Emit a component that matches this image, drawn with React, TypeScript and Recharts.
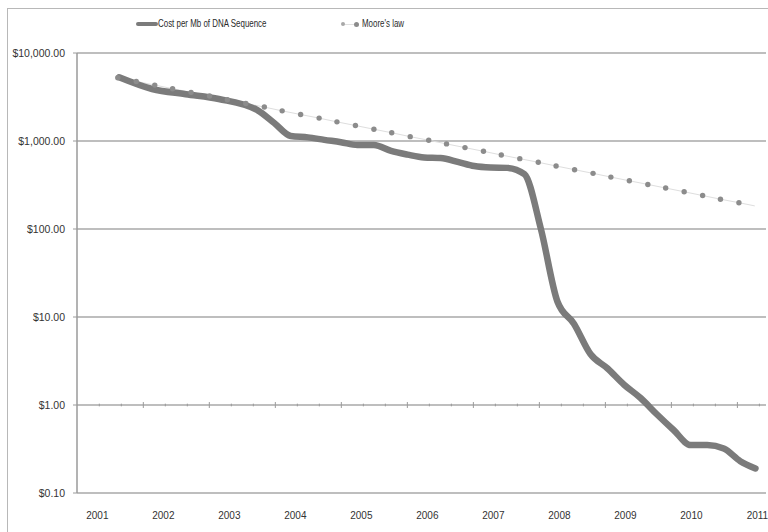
import { LineChart, Line, XAxis, YAxis, CartesianGrid, ReferenceLine } from 'recharts';

// Cost per Mb of DNA sequence, positions on the year axis as drawn
const costDates = [
  2001.33, 2001.83, 2002.34, 2002.84, 2003.43, 2003.68, 2003.93, 2004.19, 2004.44, 2004.69,
  2004.94, 2005.19, 2005.45, 2005.7, 2005.95, 2006.2, 2006.46, 2006.71, 2006.96, 2007.21,
  2007.47, 2007.72, 2007.97, 2008.22, 2008.47, 2008.73, 2008.98, 2009.23, 2009.48, 2009.73,
  2009.99, 2010.24, 2010.49, 2010.74, 2010.97,
];
const costValues = [
  5300, 3900, 3400, 3000, 2230, 1600, 1140, 1100, 1030, 970,
  900, 900, 770, 700, 650, 640, 580, 520, 500, 495,
  420, 100, 15, 8.4, 3.8, 2.6, 1.7, 1.2, 0.78, 0.52,
  0.35, 0.35, 0.32, 0.23, 0.19,
];

// Moore's law reference (dots), the last point only ends the faint line
const mooreDates = [
  2001.31, 2001.59, 2001.87, 2002.14, 2002.42, 2002.7, 2002.97, 2003.25, 2003.53, 2003.8,
  2004.08, 2004.36, 2004.63, 2004.91, 2005.19, 2005.46, 2005.74, 2006.02, 2006.29, 2006.57,
  2006.85, 2007.12, 2007.4, 2007.68, 2007.95, 2008.23, 2008.51, 2008.78, 2009.06, 2009.34,
  2009.61, 2009.89, 2010.17, 2010.44, 2010.72, 2010.96,
];
const mooreValues = [
  5240, 4750, 4320, 3930, 3570, 3240, 2940, 2670, 2430, 2200,
  2000, 1820, 1650, 1500, 1360, 1240, 1120, 1020, 927, 841,
  764, 693, 630, 573, 520, 472, 429, 389, 353, 321,
  292, 265, 240, 218, 199, 183,
];

const yearTicks = [2001, 2002, 2003, 2004, 2005, 2006, 2007, 2008, 2009, 2010, 2011];
const priceTicks = [0.1, 1, 10, 100, 1000, 10000];
// small marks along the $1.00 line, every third one is long
const minorTickStart = 2001.03;
const minorTickCount = 31;

const costData = costDates.map((t, i) => ({ t, cost: costValues[i] }));
const mooreData = mooreDates.map((t, i) => ({ t, moore: mooreValues[i] }));

const dollars = (v: number) =>
  '$' + v.toLocaleString('en-US', { minimumFractionDigits: 2, maximumFractionDigits: 2 });

const FONT = '"Liberation Sans", Arial, Helvetica, sans-serif';
const LINE_GRAY = '#7b7b7b';
const DOT_GRAY = '#8c8c8c';

function Legend() {
  const text: React.CSSProperties = {
    position: 'absolute',
    top: 17,
    fontFamily: FONT,
    fontSize: 11.5,
    color: '#2a2a2a',
    whiteSpace: 'nowrap',
    transform: 'scaleX(0.69)',
    transformOrigin: 'left center',
  };
  return (
    <>
      <div style={{ position: 'absolute', left: 136, top: 22, width: 22, height: 4, background: LINE_GRAY, borderRadius: 2 }} />
      <div style={{ ...text, left: 158 }}>Cost per Mb of DNA Sequence</div>
      <div style={{ position: 'absolute', left: 343, top: 24, width: 13, height: 1, background: '#e0e0e0' }} />
      <div style={{ position: 'absolute', left: 341, top: 22, width: 4, height: 4, borderRadius: 2, background: '#a8a8a8' }} />
      <div style={{ position: 'absolute', left: 354, top: 22, width: 5, height: 5, borderRadius: 3, background: DOT_GRAY }} />
      <div style={{ ...text, left: 362 }}>Moore's law</div>
    </>
  );
}

export default function App() {
  const ticks = Array.from({ length: minorTickCount }, (_, k) => ({
    t: minorTickStart + k / 3,
    major: k % 3 === 2,
  }));

  return (
    <div style={{ position: 'relative', width: 768, height: 532, overflow: 'hidden', background: '#fff' }}>
      <style>{'body{margin:0}'}</style>
      <div
        style={{
          position: 'absolute',
          left: 7,
          top: 8,
          width: 800,
          height: 600,
          borderLeft: '1px solid #b8b8b8',
          borderTop: '1px solid #b8b8b8',
        }}
      />
      <Legend />
      <div style={{ position: 'absolute', left: 0, top: 0 }}>
        <LineChart width={790} height={532} margin={{ top: 53, right: 24, left: 7, bottom: 9 }}>
          <CartesianGrid vertical={false} stroke="#a9a9a9" strokeWidth={1.5} />
          <XAxis
            dataKey="t"
            type="number"
            domain={[2000.692, 2011.13]}
            allowDataOverflow
            ticks={yearTicks}
            tickFormatter={(v: number) => String(v)}
            axisLine={false}
            tickLine={false}
            tickSize={6}
            tickMargin={13}
            height={30}
            tick={{ fontFamily: FONT, fontSize: 10, fill: '#333' }}
          />
          <YAxis
            scale="log"
            domain={[0.1, 10000]}
            allowDataOverflow
            ticks={priceTicks}
            tickFormatter={dollars}
            width={70}
            axisLine={{ stroke: '#9a9a9a', strokeWidth: 1.5 }}
            tickLine={{ stroke: '#9a9a9a' }}
            tickSize={4}
            tickMargin={8}
            tick={{ fontFamily: FONT, fontSize: 10.5, fill: '#333' }}
          />
          {ticks.map(({ t, major }) => (
            <ReferenceLine
              key={t}
              segment={[
                { x: t, y: major ? 0.925 : 0.965 },
                { x: t, y: major ? 1.081 : 1.036 },
              ]}
              stroke="#9a9a9a"
              strokeWidth={1}
            />
          ))}
          <Line
            data={mooreData}
            dataKey="moore"
            type="linear"
            stroke="#dedede"
            strokeWidth={1}
            isAnimationActive={false}
            activeDot={false}
            dot={(p: any) =>
              p.index < mooreData.length - 1 ? (
                <circle key={p.index} cx={p.cx} cy={p.cy} r={2.7} fill={DOT_GRAY} />
              ) : (
                <g key={p.index} />
              )
            }
          />
          <Line
            data={costData}
            dataKey="cost"
            type="monotone"
            stroke={LINE_GRAY}
            strokeWidth={6.5}
            strokeLinecap="round"
            strokeLinejoin="round"
            dot={false}
            activeDot={false}
            isAnimationActive={false}
          />
        </LineChart>
      </div>
    </div>
  );
}
